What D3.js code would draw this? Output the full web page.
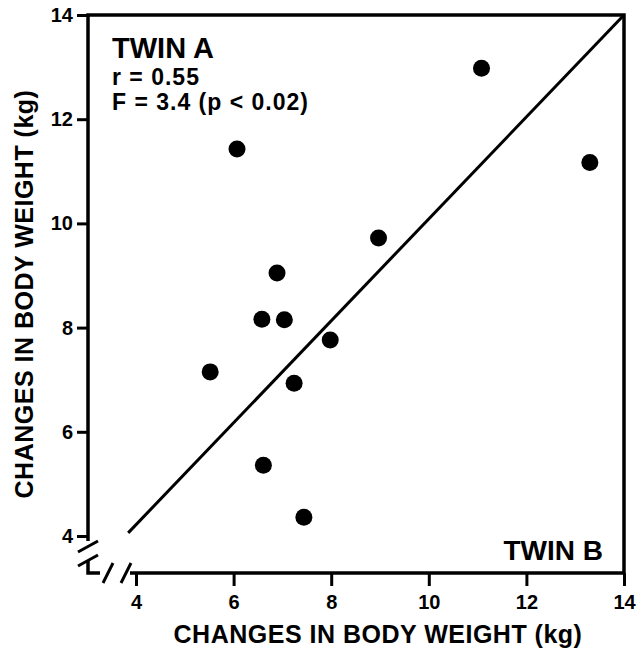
<!DOCTYPE html>
<html lang="en">
<head>
<meta charset="UTF-8">
<title>twins body weight</title>
<script src="https://d3js.org/d3.v7.min.js"></script>
<style>
	body { margin: 0; background: #fff; }
	svg { display: block; background: #fff; }
	text { font-family: "Liberation Sans", Arial, Helvetica, sans-serif; font-weight: bold; fill: #000; }
</style>
</head>
<body>
<div id="viz"></div>
<script>
// changes in body weight (kg): twin B on x, twin A on y
var twinB = [6.07, 11.08, 13.30, 8.97, 6.89, 6.58, 7.04, 7.98, 5.52, 7.24, 6.61, 7.44];
var twinA = [11.43, 12.98, 11.17, 9.72, 9.05, 8.16, 8.15, 7.76, 7.15, 6.93, 5.36, 4.36];
var tickValues = [4, 6, 8, 10, 12, 14];
var fitLine = [[3.84, 4.06], [14, 14]];
var statLines = ["r = 0.55", "F = 3.4 (p < 0.02)"];
var axisTitle = "CHANGES IN BODY WEIGHT (kg)";

var width = 636, height = 652;
var frameLeft = 88, frameBottom = 573;

var svg = d3.select('#viz').append('svg')
	.attr('width', width)
	.attr('height', height);

var x = d3.scaleLinear().domain([4, 14]).range([136, 624]);
var y = d3.scaleLinear().domain([4, 14]).range([536, 15]);

function styleAxis(g) {
	g.select('.domain').remove();
	g.selectAll('.tick line').attr('stroke', '#000').attr('stroke-width', 3);
	g.selectAll('.tick text')
		.attr('fill', '#000')
		.style('font-family', '"Liberation Sans", Arial, sans-serif')
		.style('font-weight', 'bold')
		.style('font-size', '20px');
}

// axes with ticks only, frame drawn by hand below
svg.append('g')
	.attr('transform', 'translate(0,' + frameBottom + ')')
	.call(d3.axisBottom(x).tickValues(tickValues).tickSize(13).tickPadding(9).tickFormat(d3.format('d')))
	.call(styleAxis);

svg.append('g')
	.attr('transform', 'translate(' + frameLeft + ',0)')
	.call(d3.axisLeft(y).tickValues(tickValues).tickSize(11).tickPadding(4).tickFormat(d3.format('d')))
	.call(styleAxis);

var frame = svg.append('g')
	.attr('fill', 'none')
	.attr('stroke', '#000')
	.attr('stroke-width', 3.5);

// top + right border, y axis down to the break, x axis from the break
frame.append('path')
	.attr('d', 'M' + frameLeft + ',' + (y(4) + 5) + 'V' + y(14) + 'H' + x(14) + 'V' + frameBottom + 'H' + (x(4) - 6));

// lower stubs of both axes
frame.append('path')
	.attr('d', 'M' + frameLeft + ',' + (y(4) + 24) + 'V' + frameBottom + 'H' + (frameLeft + 12));

// break marks
var brk = frame.append('g').attr('stroke-width', 3);
[y(4) + 10, y(4) + 24].forEach(function (yy) {
	brk.append('line')
		.attr('x1', frameLeft - 10).attr('y1', yy + 6)
		.attr('x2', frameLeft + 10).attr('y2', yy - 5);
});
[x(4) - 28, x(4) - 10].forEach(function (xx) {
	brk.append('line')
		.attr('x1', xx - 5).attr('y1', frameBottom + 10)
		.attr('x2', xx + 5).attr('y2', frameBottom - 10);
});

// regression line
svg.append('line')
	.attr('x1', x(fitLine[0][0])).attr('y1', y(fitLine[0][1]))
	.attr('x2', x(fitLine[1][0])).attr('y2', y(fitLine[1][1]))
	.attr('stroke', '#000')
	.attr('stroke-width', 3);

// points
svg.append('g').selectAll('circle')
	.data(twinB.map(function (d, i) { return [d, twinA[i]]; }))
	.enter().append('circle')
	.attr('cx', function (d) { return x(d[0]); })
	.attr('cy', function (d) { return y(d[1]); })
	.attr('r', 8.5)
	.attr('fill', '#000');

// labels
svg.append('text')
	.attr('x', 112).attr('y', 58)
	.style('font-size', '29px')
	.text('TWIN A');

svg.selectAll('.stat')
	.data(statLines)
	.enter().append('text')
	.attr('class', 'stat')
	.attr('x', 112)
	.attr('y', function (d, i) { return 85 + i * 25; })
	.style('font-size', '23px')
	.style('letter-spacing', '1px')
	.text(function (d) { return d; });

svg.append('text')
	.attr('x', 603).attr('y', 560)
	.attr('text-anchor', 'end')
	.style('font-size', '28px')
	.text('TWIN B');

svg.append('text')
	.attr('x', 378).attr('y', 643)
	.attr('text-anchor', 'middle')
	.style('font-size', '25px')
	.style('letter-spacing', '0.5px')
	.text(axisTitle);

svg.append('text')
	.attr('transform', 'translate(33,294) rotate(-90)')
	.attr('text-anchor', 'middle')
	.style('font-size', '25px')
	.style('letter-spacing', '0.5px')
	.text(axisTitle);
</script>
</body>
</html>
